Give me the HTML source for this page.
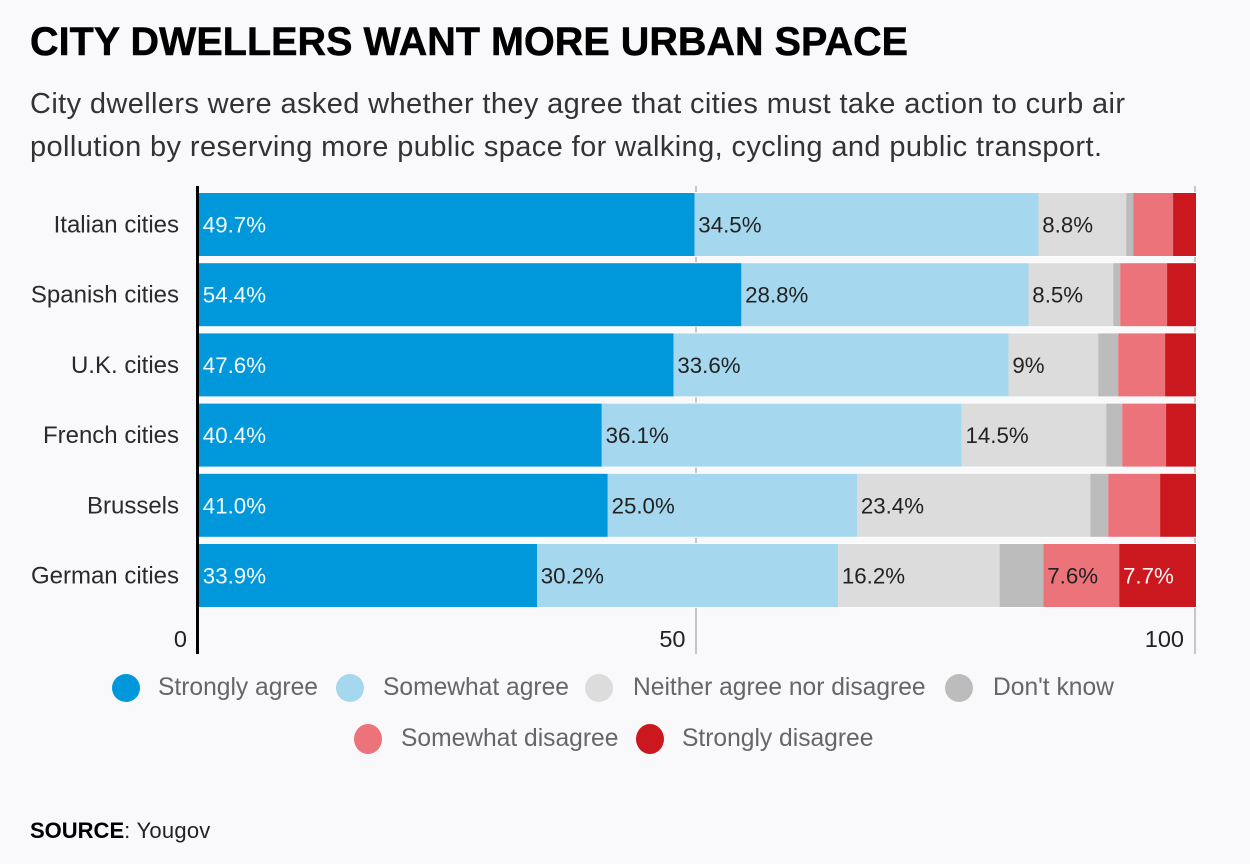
<!DOCTYPE html>
<html lang="en">
<head>
<meta charset="utf-8">
<title>City dwellers want more urban space</title>
<style>
html,body{margin:0;padding:0;background:#f9f9fb;width:1250px;height:864px;overflow:hidden}
svg{display:block}
text{font-family:"Liberation Sans",sans-serif}
</style>
</head>
<body>
<svg id="chart" xmlns="http://www.w3.org/2000/svg" width="1250" height="864" viewBox="0 0 1250 864">
  <rect x="0" y="0" width="1250" height="864" fill="#f9f9fb"/>
  <text x="30" y="55" font-size="39.5" font-weight="700" fill="#000" stroke="#000" stroke-width="0.5" textLength="878" lengthAdjust="spacing">CITY DWELLERS WANT MORE URBAN SPACE</text>
  <text x="30" y="113" font-size="29" fill="#333" textLength="1095" lengthAdjust="spacing">City dwellers were asked whether they agree that cities must take action to curb air</text>
  <text x="30" y="156" font-size="29" fill="#333" textLength="1072" lengthAdjust="spacing">pollution by reserving more public space for walking, cycling and public transport.</text>
  <g id="grid"></g>
  <g id="bands"></g>
  <g id="bars"></g>
  <g id="yaxis"></g>
  <g id="xaxis"></g>
  <g id="legend"></g>
  <text x="30" y="838" font-size="22" fill="#222"><tspan font-weight="700" fill="#000">SOURCE</tspan><tspan letter-spacing="0.25">: Yougov</tspan></text>
</svg>
<script>
const categories = ["Italian cities", "Spanish cities", "U.K. cities", "French cities", "Brussels", "German cities"];
const seriesNames = ["Strongly agree", "Somewhat agree", "Neither agree nor disagree", "Don't know", "Somewhat disagree", "Strongly disagree"];
const stronglyAgree = [49.7, 54.4, 47.6, 40.4, 41.0, 33.9];
const somewhatAgree = [34.5, 28.8, 33.6, 36.1, 25.0, 30.2];
const neitherAgree = [8.8, 8.5, 9, 14.5, 23.4, 16.2];
const dontKnow = [0.7, 0.7, 2.0, 1.6, 1.8, 4.4];
const somewhatDisagree = [4.0, 4.7, 4.7, 4.4, 5.2, 7.6];
const stronglyDisagree = [2.3, 2.9, 3.1, 3.0, 3.6, 7.7];
const stronglyAgreeLabels = ["49.7%", "54.4%", "47.6%", "40.4%", "41.0%", "33.9%"];
const somewhatAgreeLabels = ["34.5%", "28.8%", "33.6%", "36.1%", "25.0%", "30.2%"];
const neitherAgreeLabels = ["8.8%", "8.5%", "9%", "14.5%", "23.4%", "16.2%"];
const dontKnowLabels = ["", "", "", "", "", ""];
const somewhatDisagreeLabels = ["", "", "", "", "", "7.6%"];
const stronglyDisagreeLabels = ["", "", "", "", "", "7.7%"];
const xTicks = [0, 50, 100];

const allSeries = [stronglyAgree, somewhatAgree, neitherAgree, dontKnow, somewhatDisagree, stronglyDisagree];
const allLabels = [stronglyAgreeLabels, somewhatAgreeLabels, neitherAgreeLabels, dontKnowLabels, somewhatDisagreeLabels, stronglyDisagreeLabels];
const seriesColors = ["#0098da", "#a5d8ef", "#dcdcdc", "#bcbcbc", "#ec7379", "#cb171e"];
const labelColors = ["#f4fbff", "#222222", "#222222", "#222222", "#222222", "#fff4f4"];
const seriesKeys = ["strongly-agree", "somewhat-agree", "neither", "dont-know", "somewhat-disagree", "strongly-disagree"];

const NS = "http://www.w3.org/2000/svg";
const xScale = v => 199 + v * 9.97;
const rowTop = i => 193 + i * 70.2;
const rowHeight = 63;
const tickX = v => v === 0 ? 197.5 : xScale(v) - (v === 100 ? 1 : 1.5);

function make(tag, attrs, parent, content) {
  const el = document.createElementNS(NS, tag);
  Object.keys(attrs).forEach(k => el.setAttribute(k, attrs[k]));
  if (content !== undefined) el.textContent = content;
  parent.appendChild(el);
  return el;
}

const gridGroup = document.getElementById("grid");
const bandGroup = document.getElementById("bands");
const barGroup = document.getElementById("bars");
const yGroup = document.getElementById("yaxis");
const xGroup = document.getElementById("xaxis");
const legendGroup = document.getElementById("legend");

xTicks.forEach(t => {
  if (t === 0) return;
  const line = make("rect", {x: tickX(t) - 1, y: 186, width: 2, height: 468, fill: "#c6c6c8"}, gridGroup);
  
  
});

categories.forEach((cat, i) => {
  const band = make("rect", {x: 199, y: rowTop(i) - 1, width: 997, height: rowHeight + 2, fill: "#fdfdfe"}, bandGroup);
  
  

  const label = make("text", {x: 179, y: rowTop(i) + 39.5, "text-anchor": "end", "font-size": 24, fill: "#2a2a2a"}, yGroup, cat);
  
  

  let cum = 0;
  allSeries.forEach((series, s) => {
    const v = series[i];
    const seg = make("rect", {x: xScale(cum), y: rowTop(i), width: xScale(cum + v) - xScale(cum), height: rowHeight, fill: seriesColors[s]}, barGroup);
    
    
    const txt = allLabels[s][i];
    if (txt) {
      const t = make("text", {x: xScale(cum) + 3.8, y: rowTop(i) + 39.5, "font-size": 22.3, fill: labelColors[s]}, barGroup, txt);
      
      
    }
    cum += v;
  });
});

const axisLine = make("rect", {x: 196, y: 186, width: 3, height: 468, fill: "#000"}, yGroup);



xTicks.forEach(t => {
  const tx = make("text", {x: t === 0 ? 187 : xScale(t) - 12, y: 647, "text-anchor": "end", "font-size": 23.5, fill: "#222"}, xGroup, String(t));
  
  
});

const legendLayout = [[126, 688, 14], [350, 688, 14], [599, 688, 14], [959, 688, 14], [368, 739, 15], [650, 739, 15]];
const legendTextX = [158, 383, 633, 993, 401, 682];
seriesNames.forEach((name, s) => {
  const swatch = make("ellipse", {cx: legendLayout[s][0], cy: legendLayout[s][1], rx: 14, ry: legendLayout[s][2], fill: seriesColors[s]}, legendGroup);
  
  
  const lt = make("text", {x: legendTextX[s], y: s < 4 ? 695 : 746, "font-size": 24.6, fill: "#666668"}, legendGroup, name);
  
  
});
</script>
</body>
</html>
